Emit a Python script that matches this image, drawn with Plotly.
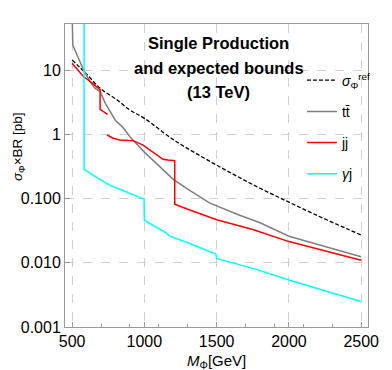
import plotly.graph_objects as go

# sigma_ref (dashed)
m_ref = [500, 600, 700, 800, 900, 1000, 1200, 1400, 1600, 1800, 2000, 2200, 2400, 2500]
sig_ref = [14.5, 8.7, 5.1, 3.6, 2.4, 1.78, 0.83, 0.445, 0.25, 0.145, 0.088, 0.054, 0.034, 0.027]

# t tbar
m_tt = [500, 505, 580, 625, 660, 695, 730, 775, 800, 850, 900, 1000, 1100, 1200, 1300,
        1450, 1650, 1800, 2000, 2250, 2500]
sig_tt = [80, 24.6, 10, 6.6, 5.2, 4.6, 3.05, 2.0, 1.65, 1.3, 0.92, 0.53, 0.32, 0.2, 0.14,
          0.086, 0.056, 0.042, 0.026, 0.018, 0.0124]

# jj (two pieces, gap between)
m_jj = [500, 580, 613, 682, 694, 694, 745, None,
        742, 780, 830, 922, 991, 1060, 1129, 1164, 1203, 1210, 1210, 1310, 1500, 1750, 2000, 2250, 2500]
sig_jj = [12.8, 7.9, 7.0, 5.2, 5.0, 2.45, 2.05, None,
          0.98, 0.88, 0.82, 0.80, 0.68, 0.53, 0.41, 0.40, 0.40, 0.39, 0.082, 0.067, 0.047, 0.033, 0.0214, 0.0155, 0.011]

# gamma j
m_gj = [583, 583, 692, 761, 830, 922, 998, 1000, 1153, 1176, 1314, 1494, 1500, 1775, 2000, 2259, 2500]
sig_gj = [100, 0.286, 0.2, 0.162, 0.14, 0.114, 0.098, 0.046, 0.029, 0.026, 0.020, 0.0137, 0.0117,
          0.0079, 0.0054, 0.0036, 0.0025]

x_ticks = [500, 1000, 1500, 2000, 2500]
y_ticks = [0.001, 0.01, 0.1, 1, 10]
y_ticktext = ["0.001", "0.010", "0.100", "1", "10"]

title_lines = ["Single Production", "and expected bounds", "(13 TeV)"]

FONT = "Liberation Sans, Arial, sans-serif"

fig = go.Figure()
fig.add_trace(go.Scatter(x=m_ref, y=sig_ref, mode="lines", line=dict(color="black", width=1.3, dash="4px,2px"),
                         name="<i>σ</i><sub>Φ</sub><sup>ref</sup>", legendgroup="a", line_shape="spline"))
fig.add_trace(go.Scatter(x=m_tt, y=sig_tt, mode="lines", line=dict(color="#808080", width=1.5),
                         name="tt\u0304", legendgroup="b"))
fig.add_trace(go.Scatter(x=m_jj, y=sig_jj, mode="lines", line=dict(color="#FF0000", width=1.5),
                         name="jj", legendgroup="c", connectgaps=False))
fig.add_trace(go.Scatter(x=m_gj, y=sig_gj, mode="lines", line=dict(color="#00FFFF", width=1.5),
                         name="<i>γ</i>j", legendgroup="d"))

axis_common = dict(showline=True, mirror=True, linecolor="#999999", linewidth=1,
                   showgrid=True, gridcolor="#d0d0d0", griddash="dash", gridwidth=1,
                   ticks="inside", ticklen=5, tickcolor="#999999", zeroline=False, automargin=False,
                   tickfont=dict(size=16, color="black", family=FONT))

fig.update_xaxes(range=[451, 2547], tickvals=x_ticks,
                 minor=dict(ticks="inside", ticklen=3, tickcolor="#999999", dtick=200, tick0=500, showgrid=False),
                 **axis_common)
fig.update_yaxes(type="log", range=[-3, 1.72], tickvals=y_ticks, ticktext=y_ticktext,
                 **axis_common)

# axis titles
fig.add_annotation(text="<i>σ</i><sub>Φ</sub>×BR [pb]", xref="paper", yref="paper",
                   x=-0.155, y=0.594, textangle=-90, showarrow=False,
                   font=dict(size=13.5, color="black", family=FONT), xanchor="center", yanchor="middle")
fig.add_annotation(text="<i>M</i><sub>Φ</sub>[GeV]", xref="paper", yref="paper",
                   x=0.5, y=-0.1155, showarrow=False,
                   font=dict(size=15, color="black", family=FONT), xanchor="center", yanchor="middle")

# in-plot title, three lines
for txt, yy in zip(title_lines, [0.937, 0.855, 0.776]):
    fig.add_annotation(text="<b>" + txt + "</b>", xref="paper", yref="paper", x=0.508, y=yy,
                       showarrow=False, xanchor="center", yanchor="middle",
                       font=dict(size=16.5, color="black", family=FONT))

fig.update_layout(
    width=384, height=362,
    margin=dict(l=57, r=24, t=16, b=43),
    paper_bgcolor="white", plot_bgcolor="white",
    font=dict(family=FONT, color="black"),
    legend=dict(x=0.782, y=0.866, xanchor="left", yanchor="top", bgcolor="rgba(0,0,0,0)",
                font=dict(size=14, color="black", family=FONT), tracegroupgap=10, itemwidth=30),
    showlegend=True,
)

fig.write_html("out.html")
